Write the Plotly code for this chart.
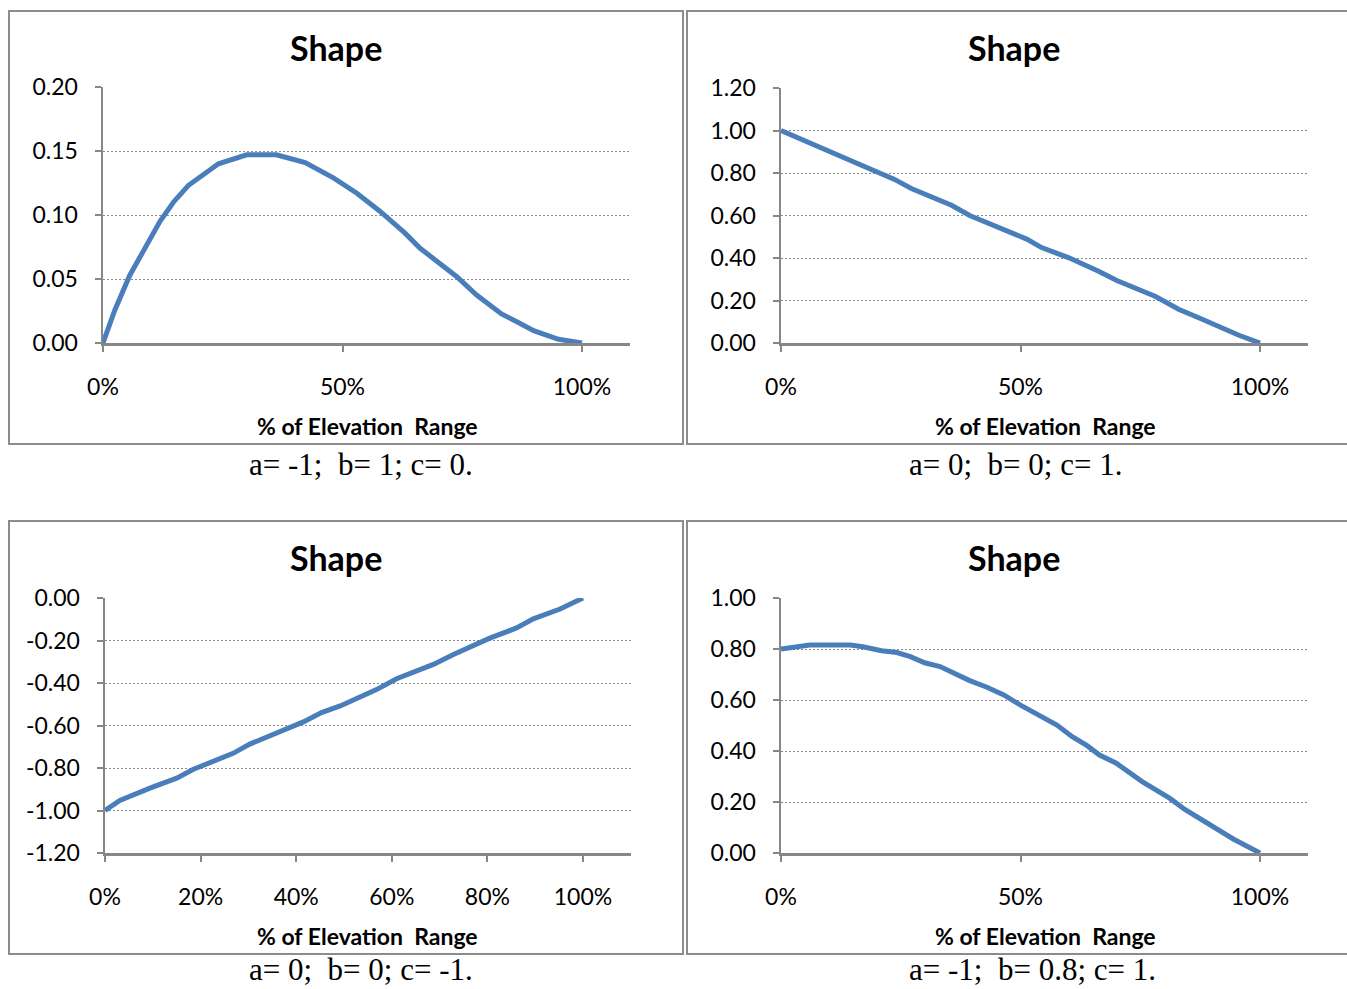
import plotly.graph_objects as go

W, H = 1347, 989

# ---------------- data ----------------
p1_x = [0, 0.025, 0.056, 0.088, 0.119, 0.147, 0.178, 0.241, 0.30, 0.362, 0.422, 0.481,
        0.530, 0.578, 0.63, 0.662, 0.70, 0.738, 0.78, 0.832, 0.867, 0.899, 0.951, 1.0]
p1_y = [0, 0.026, 0.053, 0.074, 0.095, 0.110, 0.123, 0.140, 0.147, 0.147, 0.141, 0.129,
        0.117, 0.103, 0.086, 0.074, 0.0635, 0.052, 0.0375, 0.0227, 0.016, 0.0096, 0.0029, 0.0]

p2_x = [0, 0.087, 0.122, 0.202, 0.237, 0.272, 0.356, 0.394, 0.454, 0.513, 0.544, 0.60,
        0.663, 0.701, 0.782, 0.830, 0.872, 0.956, 1.0]
p2_y = [1.0, 0.917, 0.878, 0.806, 0.770, 0.727, 0.648, 0.60, 0.544, 0.489, 0.449, 0.402,
        0.338, 0.294, 0.219, 0.159, 0.119, 0.0365, 0.0]

p3_x = [0, 0.031, 0.094, 0.15, 0.185, 0.22, 0.268, 0.303, 0.345, 0.415, 0.453, 0.492,
        0.568, 0.61, 0.687, 0.729, 0.805, 0.861, 0.896, 0.952, 1.0]
p3_y = [-1.0, -0.953, -0.895, -0.848, -0.806, -0.773, -0.731, -0.6875, -0.65, -0.583,
        -0.539, -0.508, -0.431, -0.38, -0.3125, -0.266, -0.189, -0.141, -0.098, -0.052, 0.0]

p4_x = [0, 0.06, 0.145, 0.171, 0.21, 0.242, 0.27, 0.30, 0.332, 0.358, 0.394, 0.43, 0.465,
        0.50, 0.545, 0.576, 0.608, 0.639, 0.665, 0.70, 0.754, 0.812, 0.843, 0.90, 0.945, 1.0]
p4_y = [0.80, 0.816, 0.816, 0.809, 0.793, 0.786, 0.770, 0.746, 0.731, 0.707, 0.676, 0.65,
        0.62, 0.58, 0.532, 0.502, 0.456, 0.421, 0.384, 0.352, 0.28, 0.214, 0.171, 0.103,
        0.054, 0.0]

x_ticks_half = [0, 0.5, 1.0]
x_text_half = ["0%", "50%", "100%"]
x_ticks_fifth = [0, 0.2, 0.4, 0.6, 0.8, 1.0]
x_text_fifth = ["0%", "20%", "40%", "60%", "80%", "100%"]

y1_ticks = [0, 0.05, 0.10, 0.15, 0.20]
y1_text = ["0.00", "0.05", "0.10", "0.15", "0.20"]
y2_ticks = [0, 0.2, 0.4, 0.6, 0.8, 1.0, 1.2]
y2_text = ["0.00", "0.20", "0.40", "0.60", "0.80", "1.00", "1.20"]
y3_ticks = [-1.2, -1.0, -0.8, -0.6, -0.4, -0.2, 0]
y3_text = ["-1.20", "-1.00", "-0.80", "-0.60", "-0.40", "-0.20", "0.00"]
y4_ticks = [0, 0.2, 0.4, 0.6, 0.8, 1.0]
y4_text = ["0.00", "0.20", "0.40", "0.60", "0.80", "1.00"]

chart_title = "Shape"
axis_title = "% of Elevation  Range"
captions = ["a= -1;  b= 1; c= 0.", "a= 0;  b= 0; c= 1.",
            "a= 0;  b= 0; c= -1.", "a= -1;  b= 0.8; c= 1."]

# ---------------- layout helpers ----------------
def px(x):
    return x / W

def py(y):
    return 1 - y / H

LINE_COLOR = "#4A7EBB"
AX_COLOR = "#878787"
TICK_FONT = dict(family="Lato, Open Sans, sans-serif", size=23, color="black")

fig = go.Figure()
series = [(p1_x, p1_y), (p2_x, p2_y), (p3_x, p3_y), (p4_x, p4_y)]
for i, (xs, ys) in enumerate(series):
    n = "" if i == 0 else str(i + 1)
    fig.add_trace(go.Scatter(x=xs, y=ys, mode="lines", xaxis="x" + n, yaxis="y" + n,
                             line=dict(color=LINE_COLOR, width=5), showlegend=False,
                             hoverinfo="skip", cliponaxis=False))

panels = [
    dict(x0=103, x1=582, yt=87, yb=343, yr=[0, 0.2], yt_v=y1_ticks, yt_t=y1_text,
         xt_v=x_ticks_half, xt_t=x_text_half),
    dict(x0=781, x1=1260, yt=88, yb=343, yr=[0, 1.2], yt_v=y2_ticks, yt_t=y2_text,
         xt_v=x_ticks_half, xt_t=x_text_half),
    dict(x0=105, x1=583, yt=598, yb=853, yr=[-1.2, 0], yt_v=y3_ticks, yt_t=y3_text,
         xt_v=x_ticks_fifth, xt_t=x_text_fifth),
    dict(x0=781, x1=1260, yt=598, yb=853, yr=[0, 1.0], yt_v=y4_ticks, yt_t=y4_text,
         xt_v=x_ticks_half, xt_t=x_text_half),
]

layout = dict(template="none", width=W, height=H, margin=dict(l=0, r=0, t=0, b=0, pad=0),
              autosize=False, hovermode=False,
              paper_bgcolor="white", plot_bgcolor="white", showlegend=False)

for i, p in enumerate(panels):
    n = "" if i == 0 else str(i + 1)
    xend = p["x0"] + (p["x1"] - p["x0"]) * 1.1
    layout["xaxis" + n] = dict(
        domain=[px(p["x0"]), px(xend)], range=[0, 1.1], anchor="y" + n, automargin=False,
        showgrid=False, zeroline=False, showline=True, linecolor=AX_COLOR, linewidth=2.5,
        ticks="outside", ticklen=6, tickwidth=2, tickcolor=AX_COLOR,
        tickvals=p["xt_v"], ticktext=p["xt_t"], tickfont=TICK_FONT,
        ticklabelstandoff=16, fixedrange=True)
    layout["yaxis" + n] = dict(
        domain=[py(p["yb"]), py(p["yt"])], range=p["yr"], anchor="x" + n, automargin=False,
        showgrid=True, gridcolor=AX_COLOR, gridwidth=1, griddash="2px,2px",
        zeroline=False, showline=True, linecolor=AX_COLOR, linewidth=2.5,
        ticks="outside", ticklen=6, tickwidth=2, tickcolor=AX_COLOR,
        tickvals=p["yt_v"], ticktext=p["yt_t"], tickfont=TICK_FONT,
        ticklabelstandoff=12, fixedrange=True)

fig.update_layout(**layout)

boxes = [(9, 11, 683, 444), (687, 11, 1352, 444), (9, 521, 683, 954), (687, 521, 1352, 954)]
for (x0, y0, x1, y1) in boxes:
    fig.add_shape(type="rect", xref="paper", yref="paper",
                  x0=px(x0), x1=px(x1), y0=py(y1), y1=py(y0),
                  line=dict(color="#8C8C8C", width=2), fillcolor="rgba(0,0,0,0)")

title_pos = [(336, 47), (1014, 47), (336, 557), (1014, 557)]
atitle_pos = [(367, 426), (1045, 426), (367, 936), (1045, 936)]
cap_pos = [(247, 464, "middle"), (907, 464, "middle"), (247, 989, "bottom"), (907, 989, "bottom")]

for i in range(4):
    tx, ty = title_pos[i]
    fig.add_annotation(xref="paper", yref="paper", x=px(tx), y=py(ty), text="<b>" + chart_title + "</b>",
                       showarrow=False, xanchor="center", yanchor="middle",
                       font=dict(family="Lato, sans-serif", size=34, color="black"))
    ax, ay = atitle_pos[i]
    fig.add_annotation(xref="paper", yref="paper", x=px(ax), y=py(ay), text="<b>" + axis_title + "</b>",
                       showarrow=False, xanchor="center", yanchor="middle",
                       font=dict(family="Lato, sans-serif", size=23, color="black"))
    cx, cy, ya = cap_pos[i]
    fig.add_annotation(xref="paper", yref="paper", x=px(cx), y=py(cy),
                       text=captions[i].replace("  ", "&nbsp; "),
                       showarrow=False, xanchor="left", yanchor=ya,
                       font=dict(family="Liberation Serif, serif", size=31, color="black"))

fig.write_html("out.html", config={"displayModeBar": False, "staticPlot": True},
               post_script="document.body.style.margin='0px';")
